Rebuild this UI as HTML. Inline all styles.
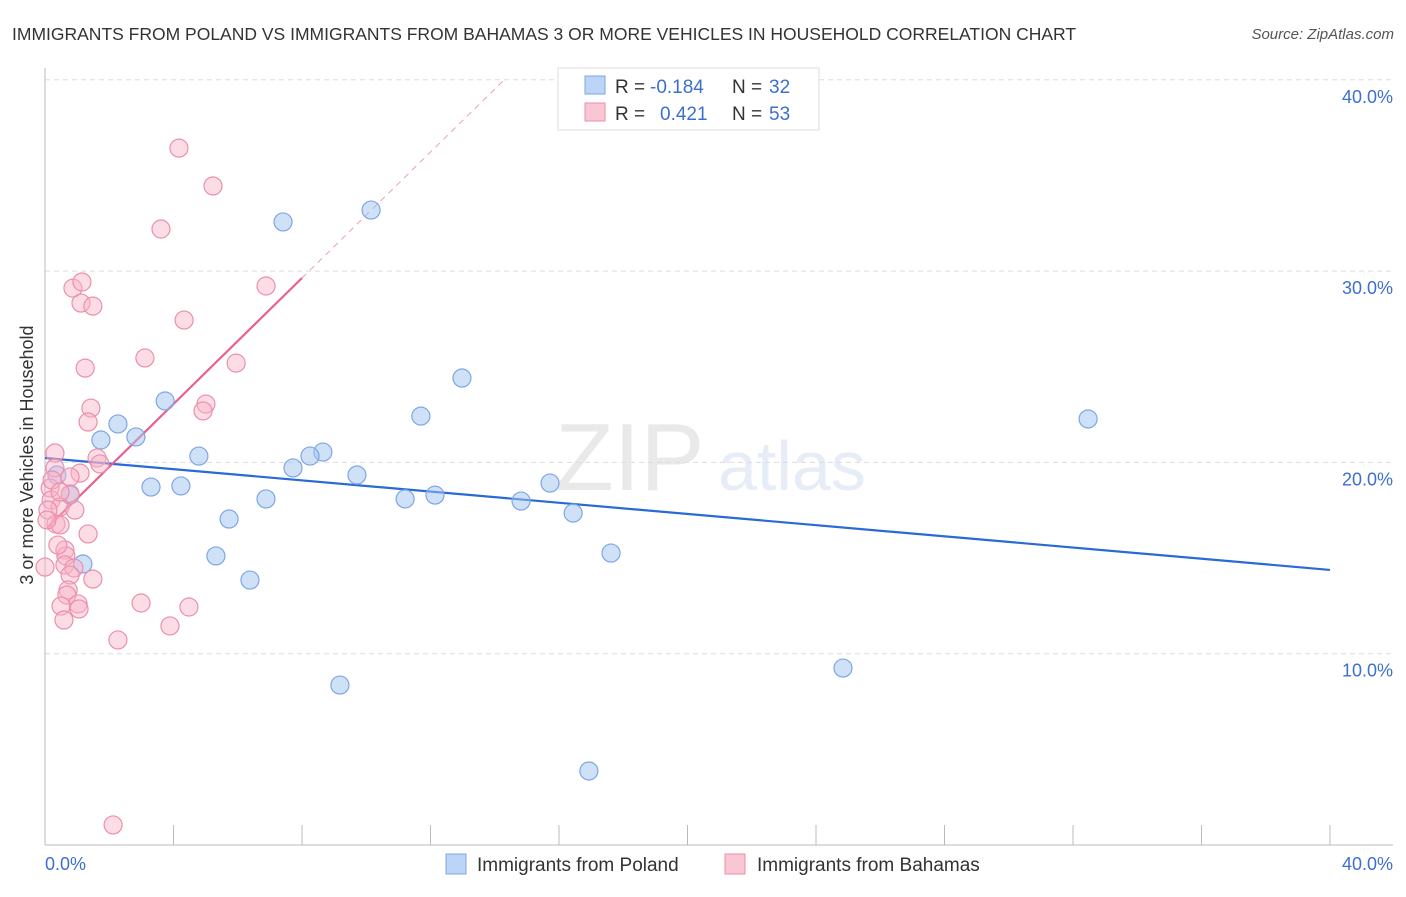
<!DOCTYPE html>
<html><head><meta charset="utf-8"><style>
body{margin:0;background:#fff;font-family:"Liberation Sans",sans-serif}
svg text{font-family:"Liberation Sans",sans-serif}
</style></head><body>
<svg id="c" width="1406" height="892" viewBox="0 0 1406 892">
<text x="12" y="40" font-size="17.5" fill="#333">IMMIGRANTS FROM POLAND VS IMMIGRANTS FROM BAHAMAS 3 OR MORE VEHICLES IN HOUSEHOLD CORRELATION CHART</text>
<text x="1394" y="39" font-size="15" fill="#555" font-style="italic" text-anchor="end">Source: ZipAtlas.com</text>
<g opacity="0.18">
<text x="555" y="490" font-size="96" font-family="Liberation Serif" fill="#888">ZIP</text>
<text x="718" y="490" font-size="70" fill="#7aa0d8">atlas</text>
</g>
<g id="grid"></g><g id="axes"></g><g id="lines"></g><g id="pts"></g>
<text transform="translate(33,455) rotate(-90)" font-size="18" fill="#333" text-anchor="middle">3 or more Vehicles in Household</text>
<text x="45" y="870" font-size="18" fill="#3d6fd1">0.0%</text>
<text x="1393" y="870" font-size="18" fill="#3d6fd1" text-anchor="end">40.0%</text>
<g>
<rect x="558" y="68" width="261" height="62" fill="#fff" stroke="#ddd"/>
<rect x="585" y="76" width="20" height="18" fill="#bcd4f5" stroke="#7ea6e6"/>
<rect x="585" y="103" width="20" height="18" fill="#f9c6d4" stroke="#eb8fac"/>
<text x="615" y="93" font-size="19" fill="#333">R =</text><text x="650" y="93" font-size="19" fill="#3d6fd1">-0.184</text>
<text x="732" y="93" font-size="19" fill="#333">N =</text><text x="769" y="93" font-size="19" fill="#3d6fd1">32</text>
<text x="615" y="120" font-size="19" fill="#333">R =</text><text x="660" y="120" font-size="19" fill="#3d6fd1">0.421</text>
<text x="732" y="120" font-size="19" fill="#333">N =</text><text x="769" y="120" font-size="19" fill="#3d6fd1">53</text>
</g>
<g>
<rect x="446" y="854" width="20" height="20" fill="#bcd4f5" stroke="#7ea6e6"/>
<text x="477" y="871" font-size="19" fill="#333">Immigrants from Poland</text>
<rect x="725" y="854" width="20" height="20" fill="#f9c6d4" stroke="#eb8fac"/>
<text x="757" y="871" font-size="19" fill="#333">Immigrants from Bahamas</text>
</g>
</svg>
<script>
const yTicks=[10,20,30,40];
const yTickLabels=["10.0%","20.0%","30.0%","40.0%"];
const xTicks=[0,4,8,12,16,20,24,28,32,36,40];
const polandX=[7.41,10.15,12.98,11.70,32.47,3.74,2.27,2.83,1.74,4.79,8.65,8.25,7.72,9.71,3.30,4.23,6.88,11.21,12.14,14.82,15.72,16.44,5.73,5.32,17.62,6.38,1.18,9.18,24.84,16.93,0.37,0.78];
const polandY=[32.57,33.19,24.41,22.42,22.27,23.21,22.01,21.33,21.17,20.33,20.54,20.33,19.71,19.34,18.71,18.77,18.09,18.09,18.29,17.98,18.92,17.35,17.04,15.11,15.26,13.85,14.69,8.36,9.25,3.87,19.34,18.29];
const bahamasX=[4.17,5.23,3.61,6.88,0.87,1.15,1.12,1.49,4.33,3.11,5.95,1.25,5.01,4.92,1.43,1.34,0.31,1.62,1.71,1.09,0.78,0.31,0.16,0.19,0.78,0.47,0.09,0.34,0.47,1.34,0.62,0.65,0.62,0.90,0.78,0.0,1.49,0.72,0.68,2.99,1.03,1.06,0.50,4.48,0.59,3.89,2.27,2.12,0.22,0.47,0.06,0.93,0.40];
const bahamasY=[36.43,34.45,32.20,29.22,29.11,29.43,28.33,28.17,27.44,25.46,25.19,24.93,23.05,22.69,22.84,22.11,20.49,20.23,19.92,19.44,19.24,19.71,18.66,18.03,18.35,17.67,17.51,16.78,16.73,16.26,15.42,15.11,14.64,14.48,14.11,14.53,13.90,13.33,13.07,12.65,12.60,12.34,12.49,12.44,11.76,11.45,10.72,1.05,19.08,18.45,16.99,17.51,15.68];
const polandTrend=[20.23,14.38];   // y at x=0 and x=40
const bahamasTrend=[16.47,1.646];  // intercept, slope
const NS="http://www.w3.org/2000/svg";
const X=v=>45+v/40*1285, Y=v=>845-v*19.13;
function mk(t,a,p){const e=document.createElementNS(NS,t);for(const k in a)e.setAttribute(k,a[k]);document.getElementById(p).appendChild(e);return e;}
yTicks.forEach((t,i)=>{
 const g=mk('line',{x1:45,x2:1393,y1:Y(t),y2:Y(t),stroke:'#ddd','stroke-dasharray':'5,4'},'grid');
 
 
 const l=mk('text',{x:1393,y:Y(t)+23,'font-size':18,fill:'#3d6fd1','text-anchor':'end'},'grid');
 l.textContent=yTickLabels[i];
 
 
});
const ax=mk('line',{x1:45,x2:45,y1:68,y2:845,stroke:'#bbb'},'axes');


const bx=mk('line',{x1:45,x2:1393,y1:845,y2:845,stroke:'#bbb'},'axes');


xTicks.forEach(t=>{
 const e=mk('line',{x1:X(t),x2:X(t),y1:825,y2:845,stroke:'#bbb'},'axes');
 
 
});
polandX.forEach((v,i)=>{
 const c=mk('circle',{cx:X(v),cy:Y(polandY[i]),r:9,fill:'rgba(160,195,240,0.5)',stroke:'#7ea6e6','stroke-width':1.2},'pts');
 
 
});
bahamasX.forEach((v,i)=>{
 const c=mk('circle',{cx:X(v),cy:Y(bahamasY[i]),r:9,fill:'rgba(248,180,200,0.45)',stroke:'#eb8fac','stroke-width':1.2},'pts');
 
 
});
const pl=mk('line',{x1:X(0),y1:Y(polandTrend[0]),x2:X(40),y2:Y(polandTrend[1]),stroke:'#2a6ad6','stroke-width':2.2},'lines');


const bf=v=>bahamasTrend[0]+bahamasTrend[1]*v;
const xEnd=(40-bahamasTrend[0])/bahamasTrend[1];
const bd=mk('line',{x1:X(8),y1:Y(bf(8)),x2:X(xEnd),y2:Y(bf(xEnd)),stroke:'#e8a0b6','stroke-width':1,'stroke-dasharray':'6,5'},'lines');


const bl=mk('line',{x1:X(0.06),y1:Y(bf(0.06)),x2:X(8),y2:Y(bf(8)),stroke:'#e8628e','stroke-width':2.2},'lines');


</script>
</body></html>
